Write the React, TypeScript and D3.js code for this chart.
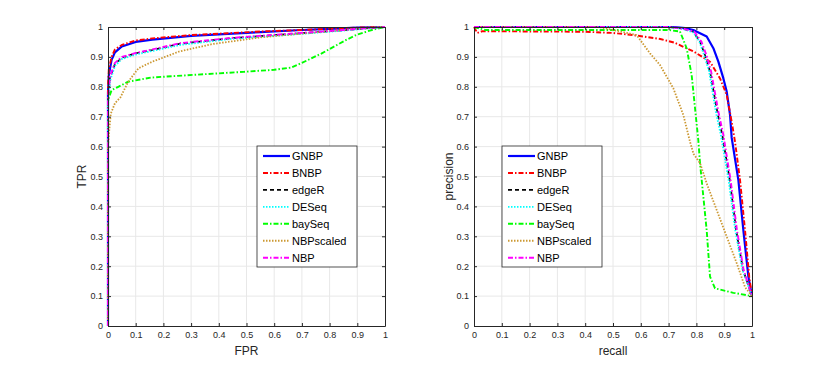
import React, { useEffect, useRef } from 'react';
import * as d3 from 'd3';

type Pt = [number, number];

const seriesNames = ['GNBP', 'BNBP', 'edgeR', 'DESeq', 'baySeq', 'NBPscaled', 'NBP'];
const tickValues = [0, 0.1, 0.2, 0.3, 0.4, 0.5, 0.6, 0.7, 0.8, 0.9, 1];
const tickLabels = ['0', '0.1', '0.2', '0.3', '0.4', '0.5', '0.6', '0.7', '0.8', '0.9', '1'];

// ROC curves (FPR, TPR)
const rocGNBP: Pt[] = [[0, 0], [0, 0.78], [0.003, 0.84], [0.013, 0.89], [0.025, 0.915], [0.05, 0.935], [0.1, 0.95], [0.16, 0.958], [0.3, 0.97], [0.45, 0.978], [0.55, 0.983], [0.7, 0.99], [0.8, 0.994], [0.9, 0.998], [1, 1]];
const rocBNBP: Pt[] = [[0, 0], [0, 0.8], [0.003, 0.86], [0.013, 0.9], [0.025, 0.925], [0.05, 0.94], [0.1, 0.955], [0.16, 0.962], [0.3, 0.973], [0.45, 0.98], [0.55, 0.985], [0.7, 0.99], [0.8, 0.994], [0.9, 0.998], [1, 1]];
const rocEdgeR: Pt[] = [[0, 0], [0, 0.75], [0.007, 0.83], [0.025, 0.876], [0.05, 0.897], [0.1, 0.912], [0.16, 0.923], [0.26, 0.944], [0.44, 0.962], [0.68, 0.978], [0.85, 0.989], [0.92, 0.995], [1, 1]];
const rocDESeq: Pt[] = [[0, 0], [0, 0.74], [0.007, 0.82], [0.025, 0.87], [0.05, 0.893], [0.1, 0.908], [0.16, 0.92], [0.26, 0.94], [0.44, 0.96], [0.68, 0.976], [0.85, 0.988], [0.92, 0.994], [1, 1]];
const rocBaySeq: Pt[] = [[0, 0], [0, 0.756], [0.013, 0.789], [0.037, 0.8], [0.073, 0.817], [0.157, 0.831], [0.31, 0.84], [0.49, 0.85], [0.6, 0.857], [0.66, 0.864], [0.7, 0.88], [0.77, 0.911], [0.86, 0.957], [0.9, 0.975], [0.96, 0.992], [1, 1]];
const rocNBPscaled: Pt[] = [[0, 0], [0, 0.6], [0.005, 0.66], [0.01, 0.71], [0.025, 0.745], [0.045, 0.765], [0.073, 0.817], [0.11, 0.862], [0.16, 0.884], [0.257, 0.918], [0.377, 0.943], [0.557, 0.966], [0.737, 0.981], [0.85, 0.99], [0.92, 0.997], [1, 1]];
const rocNBP: Pt[] = [[0, 0], [0, 0.76], [0.007, 0.834], [0.025, 0.88], [0.05, 0.9], [0.1, 0.913], [0.16, 0.925], [0.26, 0.946], [0.44, 0.963], [0.68, 0.979], [0.85, 0.99], [0.92, 0.995], [1, 1]];

// precision-recall curves (recall, precision)
const prGNBP: Pt[] = [[0, 1], [0.72, 1], [0.76, 0.996], [0.789, 0.99], [0.837, 0.968], [0.861, 0.929], [0.879, 0.884], [0.897, 0.828], [0.909, 0.784], [0.921, 0.706], [0.927, 0.629], [0.951, 0.488], [0.969, 0.32], [0.987, 0.165], [1, 0.1]];
const prBNBP: Pt[] = [[0, 1], [0.012, 0.98], [0.03, 0.986], [0.2, 0.985], [0.4, 0.984], [0.5, 0.98], [0.573, 0.973], [0.67, 0.96], [0.72, 0.948], [0.79, 0.918], [0.849, 0.884], [0.885, 0.828], [0.909, 0.773], [0.927, 0.683], [0.939, 0.616], [0.957, 0.488], [0.975, 0.32], [0.99, 0.165], [1, 0.1]];
const prEdgeR: Pt[] = [[0, 1], [0.7, 1], [0.75, 0.995], [0.789, 0.984], [0.813, 0.951], [0.831, 0.906], [0.849, 0.851], [0.862, 0.784], [0.875, 0.717], [0.893, 0.639], [0.92, 0.488], [0.943, 0.32], [0.968, 0.187], [1, 0.1]];
const prDESeq: Pt[] = [[0, 1], [0.7, 1], [0.75, 0.994], [0.789, 0.982], [0.811, 0.951], [0.828, 0.906], [0.846, 0.851], [0.858, 0.784], [0.87, 0.717], [0.888, 0.639], [0.916, 0.488], [0.94, 0.32], [0.966, 0.187], [1, 0.1]];
const prBaySeq: Pt[] = [[0, 1], [0.04, 0.99], [0.4, 0.99], [0.7, 0.99], [0.741, 0.985], [0.765, 0.929], [0.783, 0.839], [0.795, 0.729], [0.807, 0.62], [0.813, 0.545], [0.825, 0.432], [0.837, 0.32], [0.849, 0.165], [0.867, 0.126], [0.933, 0.111], [1, 0.1]];
const prNBPscaled: Pt[] = [[0, 1], [0.45, 1], [0.5, 0.99], [0.585, 0.973], [0.633, 0.912], [0.669, 0.873], [0.717, 0.795], [0.753, 0.706], [0.777, 0.616], [0.79, 0.575], [0.813, 0.545], [0.837, 0.477], [0.873, 0.388], [0.909, 0.299], [0.945, 0.21], [0.975, 0.13], [1, 0.1]];
const prNBP: Pt[] = [[0, 1], [0.7, 1], [0.75, 0.995], [0.792, 0.985], [0.818, 0.951], [0.836, 0.906], [0.853, 0.851], [0.866, 0.784], [0.879, 0.717], [0.897, 0.639], [0.923, 0.488], [0.946, 0.32], [0.97, 0.187], [1, 0.1]];

const rocSeries = [rocGNBP, rocBNBP, rocEdgeR, rocDESeq, rocBaySeq, rocNBPscaled, rocNBP];
const prSeries = [prGNBP, prBNBP, prEdgeR, prDESeq, prBaySeq, prNBPscaled, prNBP];

const colors = ['#0000ff', '#ff0000', '#000000', '#00ffff', '#00ff00', '#cc9933', '#ff00ff'];
const dashes = ['none', '5,2,1.5,2', '4,3', '1.5,1.5', '5,2,1.5,2', '1.5,1.5', '5,2,1.5,2'];
const widths = [2.2, 1.9, 1.7, 1.9, 1.9, 1.8, 1.9];

const FONT = '"Liberation Sans", Arial, Helvetica, sans-serif';
const AXIS = '#262626';

const Chart = () => {
  const chartRef = useRef<SVGSVGElement>(null);

  useEffect(() => {
    const svg = d3.select(chartRef.current);
    svg.selectAll('*').remove();
    drawPanel(svg, 108, 385, rocSeries, 'FPR', 'TPR', 86, 257);
    drawPanel(svg, 474, 752, prSeries, 'recall', 'precision', 453, 502);
  }, []);

  const drawPanel = (svg: any, x0: number, x1: number, series: Pt[][], xLabel: string, yLabel: string, yLabelX: number, legendX: number) => {
    const top = 27;
    const bottom = 326;
    const x = d3.scaleLinear().domain([0, 1]).range([x0, x1]);
    const y = d3.scaleLinear().domain([0, 1]).range([bottom, top]);

    const g = svg.append('g');

    // grid
    g.append('g').selectAll('line.gx').data(tickValues.slice(1, -1)).enter().append('line')
      .attr('x1', (d: number) => x(d)).attr('x2', (d: number) => x(d))
      .attr('y1', top).attr('y2', bottom)
      .attr('stroke', '#e8e8e8').attr('stroke-width', 1);
    g.append('g').selectAll('line.gy').data(tickValues.slice(1, -1)).enter().append('line')
      .attr('x1', x0).attr('x2', x1)
      .attr('y1', (d: number) => y(d)).attr('y2', (d: number) => y(d))
      .attr('stroke', '#e8e8e8').attr('stroke-width', 1);

    // curves
    const line = d3.line<Pt>().x(d => x(d[0])).y(d => y(d[1]));
    series.forEach((data, i) => {
      g.append('path')
        .datum(data)
        .attr('fill', 'none')
        .attr('stroke', colors[i])
        .attr('stroke-width', widths[i])
        .attr('stroke-dasharray', dashes[i])
        .attr('stroke-linejoin', 'round')
        .attr('d', line);
    });

    // axes (ticks inward on all four sides)
    const fmt = (d: any) => tickLabels[tickValues.indexOf(d)];
    const styleAxis = (a: any) => {
      a.select('.domain').attr('stroke', AXIS);
      a.selectAll('.tick line').attr('stroke', AXIS);
      a.selectAll('text').attr('fill', AXIS).attr('font-family', FONT).attr('font-size', 9);
    };
    g.append('g').attr('transform', `translate(0,${bottom})`)
      .call(d3.axisBottom(x).tickValues(tickValues).tickFormat(fmt).tickSize(-3).tickPadding(6).tickSizeOuter(0))
      .call(styleAxis);
    g.append('g').attr('transform', `translate(${x0},0)`)
      .call(d3.axisLeft(y).tickValues(tickValues).tickFormat(fmt).tickSize(-3).tickPadding(5).tickSizeOuter(0))
      .call(styleAxis);
    g.append('g').attr('transform', `translate(0,${top})`)
      .call(d3.axisTop(x).tickValues(tickValues).tickFormat(() => '').tickSize(-3).tickSizeOuter(0))
      .call(styleAxis);
    g.append('g').attr('transform', `translate(${x1},0)`)
      .call(d3.axisRight(y).tickValues(tickValues).tickFormat(() => '').tickSize(-3).tickSizeOuter(0))
      .call(styleAxis);

    // axis labels
    g.append('text')
      .attr('x', (x0 + x1) / 2).attr('y', 355)
      .attr('text-anchor', 'middle')
      .attr('font-family', FONT).attr('font-size', 12).attr('fill', AXIS)
      .text(xLabel);
    g.append('text')
      .attr('transform', `translate(${yLabelX},${(top + bottom) / 2}) rotate(-90)`)
      .attr('text-anchor', 'middle')
      .attr('font-family', FONT).attr('font-size', 12).attr('fill', AXIS)
      .text(yLabel);

    // legend
    const lg = g.append('g');
    lg.append('rect')
      .attr('x', legendX).attr('y', 146)
      .attr('width', 100).attr('height', 121)
      .attr('fill', '#ffffff').attr('stroke', AXIS).attr('stroke-width', 0.8);
    seriesNames.forEach((name, i) => {
      const ry = 156 + i * 16.95;
      lg.append('line')
        .attr('x1', legendX + 6).attr('x2', legendX + 33)
        .attr('y1', ry).attr('y2', ry)
        .attr('stroke', colors[i])
        .attr('stroke-width', widths[i])
        .attr('stroke-dasharray', dashes[i]);
      lg.append('text')
        .attr('x', legendX + 35).attr('y', ry + 4)
        .attr('font-family', FONT).attr('font-size', 11).attr('fill', '#000')
        .text(name);
    });
  };

  return (
    <svg ref={chartRef} width={830} height={367}
      style={{ position: 'absolute', left: 0, top: 0, background: '#fff' }}></svg>
  );
};

export default function App() {
  return <Chart />;
}
